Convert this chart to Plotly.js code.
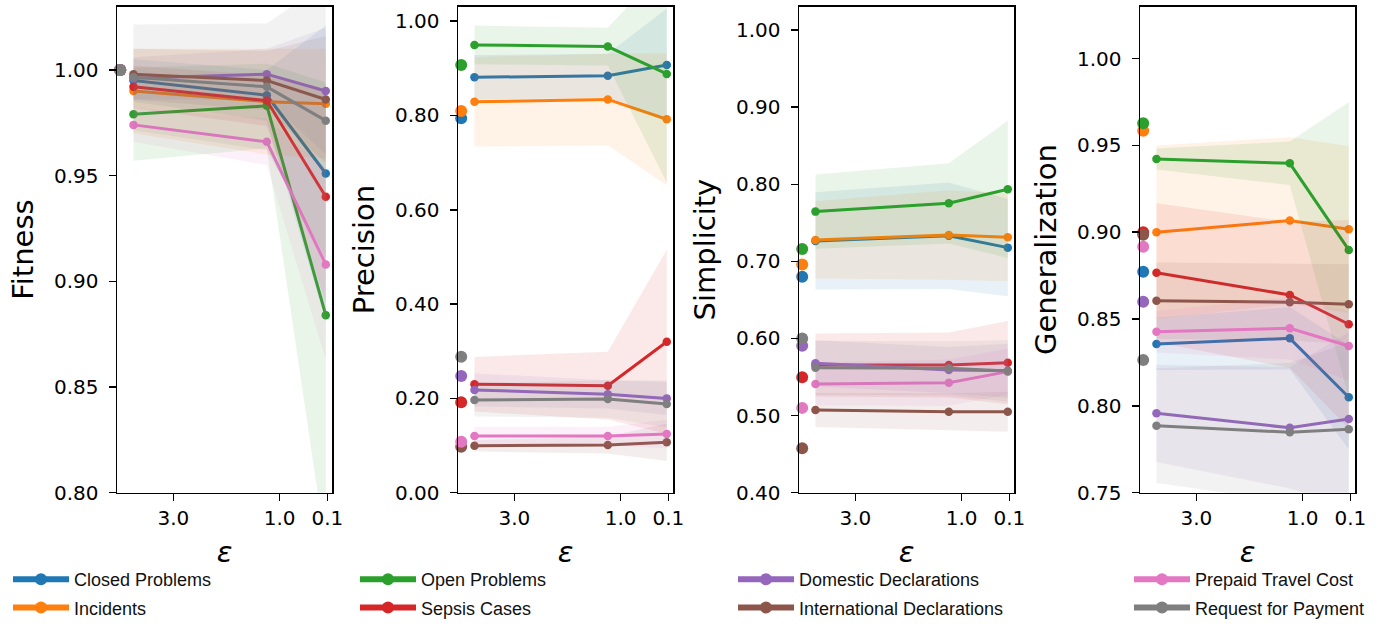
<!DOCTYPE html>
<html>
<head>
<meta charset="utf-8">
<script src="https://cdn.plot.ly/plotly-3.0.1.min.js"></script>
<style>html,body{margin:0;padding:0;background:#fff;}#chart{width:1395px;height:624px;}</style>
</head>
<body>
<div id="chart"></div>
<script>
// ---------- data ----------
const seriesNames = ['Closed Problems', 'Incidents', 'Open Problems', 'Sepsis Cases',
  'Domestic Declarations', 'International Declarations', 'Prepaid Travel Cost', 'Request for Payment'];
const seriesColors = ['#1f77b4', '#ff7f0e', '#2ca02c', '#d62728', '#9467bd', '#8c564b', '#e377c2', '#7f7f7f'];
const bandColors = ['rgba(31,119,180,0.1)', 'rgba(255,127,14,0.1)', 'rgba(44,160,44,0.1)', 'rgba(214,39,40,0.1)',
  'rgba(148,103,189,0.1)', 'rgba(140,86,75,0.1)', 'rgba(227,119,194,0.1)', 'rgba(127,127,127,0.1)'];

const epsilon = [3.75, 1.24, 0.13];
const nonPrivateEps = 4.0;
const epsTickVals = [3, 1, 0.1];
const epsTickText = ['3.0', '1.0', '0.1'];

const metricNames = ['Fitness', 'Precision', 'Simplicity', 'Generalization'];

// Fitness
const fitnessBase = [1.0, 1.0, 1.0, 1.0, 1.0, 1.0, 1.0, 1.0];
const fitnessMean = [
  [0.995, 0.988, 0.951], [0.990, 0.985, 0.984], [0.979, 0.983, 0.884], [0.992, 0.9855, 0.940],
  [0.996, 0.998, 0.990], [0.998, 0.995, 0.986], [0.974, 0.966, 0.908], [0.9965, 0.992, 0.976]];
const fitnessStd = [
  [0.010, 0.012, 0.070], [0.020, 0.025, 0.026], [0.022, 0.020, 0.110], [0.010, 0.012, 0.050],
  [0.010, 0.012, 0.030], [0.012, 0.014, 0.030], [0.008, 0.011, 0.045], [0.025, 0.030, 0.065]];

// Precision
const precisionBase = [0.794, 0.8095, 0.907, 0.1917, 0.2475, 0.0976, 0.108, 0.2885];
const precisionMean = [
  [0.881, 0.884, 0.907], [0.829, 0.834, 0.792], [0.9495, 0.946, 0.888], [0.230, 0.227, 0.320],
  [0.218, 0.2087, 0.200], [0.0997, 0.101, 0.107], [0.120, 0.120, 0.1245], [0.1966, 0.1987, 0.188]];
const precisionStd = [
  [0.047, 0.047, 0.120], [0.095, 0.097, 0.140], [0.041, 0.040, 0.230], [0.058, 0.072, 0.195],
  [0.035, 0.030, 0.035], [0.012, 0.018, 0.040], [0.020, 0.020, 0.030], [0.035, 0.040, 0.050]];

// Simplicity
const simplicityBase = [0.680, 0.696, 0.716, 0.5497, 0.5907, 0.4576, 0.510, 0.600];
const simplicityMean = [
  [0.7265, 0.7333, 0.7178], [0.7278, 0.7342, 0.7312], [0.7645, 0.7753, 0.7935], [0.5656, 0.5656, 0.5686],
  [0.5678, 0.559, 0.558], [0.5073, 0.505, 0.505], [0.541, 0.5427, 0.557], [0.562, 0.5613, 0.5578]];
const simplicityStd = [
  [0.063, 0.069, 0.063], [0.050, 0.058, 0.057], [0.048, 0.052, 0.089], [0.041, 0.042, 0.054],
  [0.030, 0.030, 0.035], [0.022, 0.024, 0.026], [0.028, 0.030, 0.030], [0.035, 0.035, 0.040]];

// Generalization
const generalizationBase = [0.8773, 0.9585, 0.9628, 0.900, 0.860, 0.8985, 0.8917, 0.8264];
const generalizationMean = [
  [0.8357, 0.8389, 0.805], [0.900, 0.9067, 0.9017], [0.9422, 0.9397, 0.8898], [0.8767, 0.8639, 0.847],
  [0.7957, 0.7874, 0.7924], [0.8606, 0.8597, 0.8585], [0.8427, 0.8447, 0.8345], [0.7886, 0.7848, 0.7865]];
const generalizationStd = [
  [0.015, 0.018, 0.030], [0.050, 0.048, 0.048], [0.006, 0.0125, 0.085], [0.040, 0.042, 0.060],
  [0.028, 0.035, 0.050], [0.022, 0.022, 0.023], [0.012, 0.018, 0.020], [0.033, 0.040, 0.050]];

const yRanges = [[0.80, 1.03], [0.0, 1.031], [0.40, 1.0305], [0.75, 1.030]];
const yTickVals = [
  [0.80, 0.85, 0.90, 0.95, 1.00],
  [0.0, 0.2, 0.4, 0.6, 0.8, 1.0],
  [0.4, 0.5, 0.6, 0.7, 0.8, 0.9, 1.0],
  [0.75, 0.80, 0.85, 0.90, 0.95, 1.00]];

// ---------- build ----------
const metrics = [
  {base: fitnessBase, mean: fitnessMean, std: fitnessStd},
  {base: precisionBase, mean: precisionMean, std: precisionStd},
  {base: simplicityBase, mean: simplicityMean, std: simplicityStd},
  {base: generalizationBase, mean: generalizationMean, std: generalizationStd}];

const W = 1395, H = 624;
const panelLeft = [117, 458, 799, 1140];
const panelWidth = 215;
const plotTop = 6.5, plotBottom = 492.7;
const legendIds = ['legend', 'legend2', 'legend3', 'legend4'];

const traces = [];
metrics.forEach((m, p) => {
  const xa = 'x' + (p === 0 ? '' : p + 1);
  const ya = 'y' + (p === 0 ? '' : p + 1);
  for (let s = 0; s < seriesNames.length; s++) {
    const up = m.mean[s].map((v, i) => v + m.std[s][i]);
    const lo = m.mean[s].map((v, i) => v - m.std[s][i]);
    traces.push({
      type: 'scatter', mode: 'lines', xaxis: xa, yaxis: ya,
      x: epsilon.concat(epsilon.slice().reverse()),
      y: up.concat(lo.slice().reverse()),
      fill: 'toself', fillcolor: bandColors[s], line: {width: 0, color: 'rgba(0,0,0,0)'},
      hoverinfo: 'skip', showlegend: false, legendgroup: seriesNames[s]
    });
    traces.push({
      type: 'scatter', mode: 'lines+markers', xaxis: xa, yaxis: ya,
      x: epsilon, y: m.mean[s], name: seriesNames[s],
      line: {color: seriesColors[s], width: 3}, marker: {color: seriesColors[s], size: 8.5},
      showlegend: false, legendgroup: seriesNames[s]
    });
    traces.push({
      type: 'scatter', mode: 'markers', xaxis: xa, yaxis: ya,
      x: [nonPrivateEps], y: [m.base[s]], name: seriesNames[s] + ' (non-private)',
      marker: {color: seriesColors[s], size: 12}, cliponaxis: false,
      showlegend: false, legendgroup: seriesNames[s]
    });
  }
});
// legend entries (handles only, no data)
seriesNames.forEach((n, s) => {
  traces.push({
    type: 'scatter', mode: 'lines+markers', x: [null], y: [null], name: n,
    line: {color: seriesColors[s], width: 6}, marker: {color: seriesColors[s], size: 12},
    legend: legendIds[Math.floor(s / 2)], legendgroup: n, showlegend: true, hoverinfo: 'skip'
  });
});

const layout = {
  width: W, height: H, margin: {l: 0, r: 0, t: 0, b: 0, autoexpand: false},
  paper_bgcolor: '#fff', plot_bgcolor: '#fff', showlegend: true,
  font: {family: 'DejaVu Sans', color: '#000'}
};
const legendLineStart = [5, 352, 730, 1126];
legendIds.forEach((id, k) => {
  layout[id] = {
    x: (legendLineStart[k] + 3) / W, xanchor: 'left', y: 1 - 561 / H, yanchor: 'top',
    orientation: 'v', bgcolor: 'rgba(0,0,0,0)', borderwidth: 0,
    itemwidth: 56, traceorder: 'grouped', tracegroupgap: 2,
    font: {family: 'Liberation Sans, Arial, sans-serif', size: 18, color: '#111'}
  };
});
metrics.forEach((m, p) => {
  const sfx = p === 0 ? '' : String(p + 1);
  layout['xaxis' + sfx] = {
    domain: [panelLeft[p] / W, (panelLeft[p] + panelWidth) / W],
    anchor: 'y' + sfx, range: [4.06, 0.013], automargin: false,
    tickvals: epsTickVals, ticktext: epsTickText,
    ticks: 'outside', ticklen: 7, tickwidth: 1.5, tickcolor: '#000',
    showline: true, mirror: true, linecolor: '#000', linewidth: 1.5,
    showgrid: false, zeroline: false,
    tickfont: {family: 'DejaVu Sans', size: 20, color: '#000'},
    title: {text: '<i>ε</i>', font: {family: 'DejaVu Sans', size: 29, color: '#000'}, standoff: 12}
  };
  layout['yaxis' + sfx] = {
    domain: [1 - plotBottom / H, 1 - plotTop / H],
    anchor: 'x' + sfx, range: yRanges[p], automargin: false,
    tickvals: yTickVals[p], tickformat: '.2f',
    ticks: 'outside', ticklen: 7, tickwidth: 1.5, tickcolor: '#000',
    ticklabelstandoff: 6,
    showline: true, mirror: true, linecolor: '#000', linewidth: 1.5,
    showgrid: false, zeroline: false,
    tickfont: {family: 'DejaVu Sans', size: 20, color: '#000'},
    title: {text: metricNames[p], font: {family: 'DejaVu Sans', size: 29, color: '#000'}, standoff: 12}
  };
});

Plotly.newPlot('chart', traces, layout, {staticPlot: true, displayModeBar: false});
</script>
</body>
</html>
